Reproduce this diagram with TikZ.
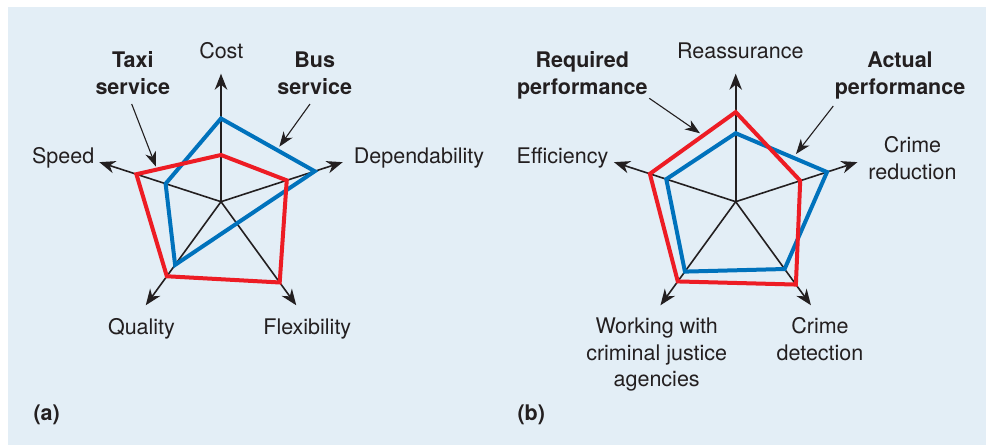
\documentclass[tikz,border=0pt]{standalone}
\usepackage{fontspec}
\setmainfont{TeX Gyre Heros}
\usetikzlibrary{arrows.meta,calc}
\definecolor{bg}{HTML}{E3EEF6}
\definecolor{ink}{HTML}{231F20}
\definecolor{pblue}{HTML}{0072BC}
\definecolor{pred}{HTML}{ED1C24}
\begin{document}
\begin{tikzpicture}[x=1pt,y=-1pt,
  axis/.style={ink, line width=1.6pt, -{Stealth[length=16pt,width=12.5pt,inset=5pt]}},
  pointer/.style={ink, line width=1.1pt, -{Stealth[length=15pt,width=11pt,inset=4.5pt]}},
  poly/.style={line width=4pt, line join=miter},
  lab/.style={font=\fontsize{21.5}{26.5}\selectfont, text=ink, inner sep=0pt, align=center, anchor=base},
  blab/.style={lab, font=\fontsize{21.5}{27}\selectfont\bfseries}]
\useasboundingbox (0,0) rectangle (986,445);
\fill[bg] (8,7) rectangle (986,445);

% ---------- panel (a)
\coordinate (ca) at (221,201.7);
\foreach \n/\a in {1/-90,2/-18,3/54,4/126,5/-162}
  \coordinate (a\n) at ($(ca)+(\a:128)$);
\foreach \n in {1,...,5} \draw[axis] (ca) -- (a\n);
\draw[poly,pblue] ($(ca)!0.65!(a1)$) -- ($(ca)!0.77!(a2)$) -- ($(ca)!0.21!(a3)$)
  -- ($(ca)!0.61!(a4)$) -- ($(ca)!0.455!(a5)$) -- cycle;
\draw[poly,pred] ($(ca)!0.365!(a1)$) -- ($(ca)!0.54!(a2)$) -- ($(ca)!0.78!(a3)$)
  -- ($(ca)!0.72!(a4)$) -- ($(ca)!0.695!(a5)$) -- cycle;

\node[lab] (cost) at (221.3,58.7) {Cost};
\node[lab] (dep) at (419,163.3) {Dependability};
\node[lab] (speed) at (63.2,163.3) {Speed};
\node[lab] (qual) at (141.5,334.3) {Quality};
\node[lab] (flex) at (307.3,334.3) {Flexibility};
\node[blab] (taxi) at (132.8,94.3) {Taxi\\service};
\node[blab] (bus) at (314.7,94.3) {Bus\\service};
\node[blab,anchor=base west] (la) at (33.3,420) {(a)};

\coordinate (taxis) at (131.7,104);
\coordinate (taxie) at (156,166.7);
\coordinate (buss) at (310,104);
\coordinate (buse) at (279.3,146.7);
\draw[pointer] (taxis) -- (taxie);
\draw[pointer] (buss) -- (buse);

% ---------- panel (b)
\coordinate (cb) at (735.7,201.7);
\foreach \n/\a in {1/-90,2/-18,3/54,4/126,5/-162}
  \coordinate (b\n) at ($(cb)+(\a:128)$);
\foreach \n in {1,...,5} \draw[axis] (cb) -- (b\n);
\draw[poly,pblue] ($(cb)!0.535!(b1)$) -- ($(cb)!0.75!(b2)$) -- ($(cb)!0.65!(b3)$)
  -- ($(cb)!0.675!(b4)$) -- ($(cb)!0.57!(b5)$) -- cycle;
\draw[poly,pred] ($(cb)!0.70!(b1)$) -- ($(cb)!0.53!(b2)$) -- ($(cb)!0.80!(b3)$)
  -- ($(cb)!0.77!(b4)$) -- ($(cb)!0.705!(b5)$) -- cycle;

\node[lab] (reas) at (740.3,58.7) {Reassurance};
\node[lab] (eff) at (562.5,163.3) {Efficiency};
\node[lab] (cred) at (912.5,179) {Crime\\reduction};
\node[lab] (work) at (656.7,386.7) {Working with\\criminal justice\\agencies};
\node[lab] (cdet) at (820,360) {Crime\\detection};
\node[blab] (req) at (582.3,94.3) {Required\\performance};
\node[blab] (act) at (900,94.3) {Actual\\performance};
\node[blab,anchor=base west] (lb) at (517.3,420) {(b)};

\coordinate (reqs) at (649.3,98.3);
\coordinate (reqe) at (700,133.3);
\coordinate (acts) at (833.3,106);
\coordinate (acte) at (796,154);
\draw[pointer] (reqs) -- (reqe);
\draw[pointer] (acts) -- (acte);
\end{tikzpicture}
\end{document}
